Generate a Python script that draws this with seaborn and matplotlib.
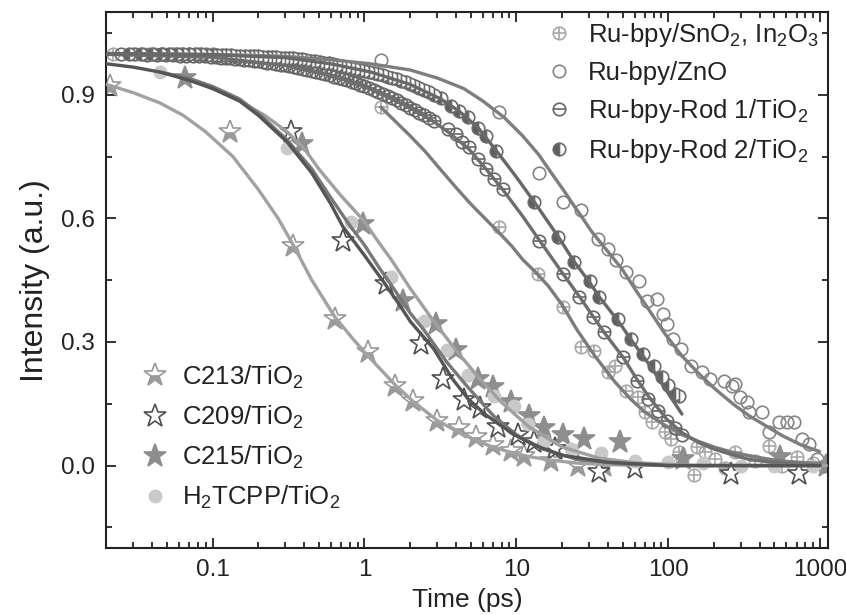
import numpy as np
import matplotlib
matplotlib.use("Agg")
import matplotlib.pyplot as plt
import matplotlib.ticker as mticker
import seaborn as sns
import pandas as pd

# ---- data ----
# Ru-bpy/SnO2, In2O3  (crossed circles)
sno2_x = [0.022, 0.030, 0.038, 0.047, 0.056, 1.28, 7.7, 13.9, 20.4, 26.8, 32.6, 40, 44.5, 53, 63, 70, 78, 95,
          105, 117, 123, 147, 155, 175, 203, 236, 275, 373, 460, 560, 700, 900]
sno2_y = [1.0, 1.0, 1.0, 1.0, 1.0, 0.87, 0.58, 0.465, 0.385, 0.288, 0.278, 0.228, 0.242, 0.18, 0.167, 0.131,
          0.106, 0.082, 0.065, 0.034, 0.017, -0.024, 0.046, 0.034, 0.017, -0.007, 0.034, 0.01, 0.048, 0.0,
          0.02, 0.005]
sno2_fit_x = [1.28, 1.6, 2.0, 2.5, 3.04, 4.0, 5.0, 6.2, 7.7, 9.3, 11, 13.5, 16.2, 20, 25, 33, 44.5, 57, 70, 95,
              123, 160, 200, 260, 340, 450, 600, 800, 1000]
sno2_fit_y = [0.87, 0.835, 0.80, 0.763, 0.726, 0.675, 0.635, 0.60, 0.565, 0.533, 0.50, 0.468, 0.436, 0.39,
              0.33, 0.265, 0.203, 0.16, 0.13, 0.098, 0.075, 0.058, 0.045, 0.033, 0.024, 0.016, 0.01, 0.007,
              0.005]

# Ru-bpy/ZnO (open circles)
zno_x = [0.035, 0.041, 0.047, 0.054, 0.062, 0.07, 0.08, 0.09, 0.1, 1.28, 7.7, 14.1, 20.3, 26.8, 34.6, 40, 45.6,
         53, 64.5, 72, 84, 93, 98, 108, 122, 142, 166, 188, 233, 262, 275, 297, 330, 340, 415, 460, 535, 605,
         675, 760, 845, 955, 1060]
zno_y = [1.0, 1.0, 1.0, 1.0, 1.0, 1.0, 1.0, 1.0, 0.998, 0.985, 0.857, 0.71, 0.64, 0.62, 0.55, 0.525, 0.50,
         0.47, 0.448, 0.40, 0.404, 0.368, 0.344, 0.307, 0.283, 0.242, 0.228, 0.21, 0.206, 0.194, 0.199, 0.167,
         0.155, 0.13, 0.131, 0.082, 0.106, 0.106, 0.106, 0.065, 0.053, 0.017, 0.0]
zno_fit_x = [0.02, 0.1, 0.3, 0.6, 1.1, 2.0, 3.04, 4.5, 6.0, 8.3, 11, 14, 17, 20.3, 23.5, 26.8, 31, 36, 42, 50,
             60, 74, 95, 123, 160, 203, 270, 340, 450, 560, 750, 990]
zno_fit_y = [1.0, 0.998, 0.993, 0.985, 0.975, 0.96, 0.94, 0.915, 0.885, 0.845, 0.80, 0.755, 0.71, 0.67, 0.635,
             0.605, 0.57, 0.54, 0.51, 0.475, 0.43, 0.38, 0.32, 0.266, 0.222, 0.186, 0.148, 0.121, 0.094,
             0.073, 0.05, 0.034]

# Ru-bpy-Rod 1/TiO2 (circle with bar)
rod1_x = [0.025, 0.031, 0.037, 0.043, 0.049, 0.055, 0.061, 0.067, 0.074, 0.081, 0.089, 0.097, 0.105, 0.113,
          0.122, 0.131, 0.141, 0.151, 0.162, 0.174, 0.186, 0.2, 0.214, 0.229, 0.245, 0.262, 0.28, 0.3, 0.32,
          0.343, 0.367, 0.392, 0.42, 0.45, 0.48, 0.515, 0.55, 0.59, 0.63, 0.675, 0.72, 0.77, 0.825, 0.88,
          0.94, 1.0, 1.07, 1.15, 1.23, 1.32, 1.42, 1.52, 1.63, 1.75, 1.88, 2.0, 2.15, 2.3, 2.47, 2.65, 2.85,
          3.54, 4.0, 4.4, 4.87, 5.6, 6.3, 7.1, 8.2, 14.1, 20.3, 26, 32, 38, 50.6, 62, 74, 86, 98, 110, 123]
rod1_y = [0.998, 0.998, 0.997, 0.997, 0.996, 0.996, 0.995, 0.995, 0.994, 0.993, 0.993, 0.992, 0.991, 0.99,
          0.989, 0.988, 0.987, 0.986, 0.985, 0.984, 0.982, 0.981, 0.979, 0.978, 0.976, 0.975, 0.973, 0.971,
          0.969, 0.967, 0.965, 0.963, 0.96, 0.958, 0.955, 0.952, 0.95, 0.947, 0.944, 0.941, 0.938, 0.935,
          0.931, 0.928, 0.924, 0.92, 0.916, 0.912, 0.907, 0.902, 0.897, 0.892, 0.886, 0.88, 0.874, 0.868,
          0.862, 0.856, 0.85, 0.843, 0.835, 0.816, 0.804, 0.785, 0.772, 0.743, 0.719, 0.695, 0.67, 0.545,
          0.465, 0.41, 0.36, 0.324, 0.264, 0.206, 0.162, 0.133, 0.109, 0.09, 0.073]
rod1_fit_x = [0.02, 0.1, 0.3, 0.6, 1.0, 1.5, 2.0, 2.85, 3.54, 4.87, 6.3, 8.2, 11, 14.1, 20.3, 26, 32, 38,
              50.6, 62, 74, 86, 98, 123, 160, 200, 270, 340, 500, 730, 1000]
rod1_fit_y = [0.998, 0.991, 0.971, 0.947, 0.92, 0.89, 0.868, 0.835, 0.81, 0.768, 0.72, 0.668, 0.605, 0.548,
              0.465, 0.41, 0.362, 0.322, 0.262, 0.21, 0.168, 0.138, 0.112, 0.08, 0.055, 0.04, 0.025, 0.015,
              0.007, 0.003, 0.0]

# Ru-bpy-Rod 2/TiO2 (half filled circles)
rod2_x = [0.028, 0.034, 0.04, 0.046, 0.052, 0.058, 0.064, 0.07, 0.077, 0.084, 0.092, 0.1, 0.107, 0.115,
          0.123, 0.132, 0.142, 0.152, 0.163, 0.175, 0.188, 0.2, 0.215, 0.23, 0.245, 0.26, 0.28, 0.3, 0.32,
          0.34, 0.365, 0.39, 0.415, 0.445, 0.475, 0.51, 0.545, 0.58, 0.62, 0.66, 0.71, 0.76, 0.81, 0.87,
          0.93, 1.0, 1.07, 1.15, 1.23, 1.32, 1.42, 1.52, 1.63, 1.75, 1.88, 2.0, 2.15, 2.3, 2.47, 2.65, 2.85,
          3.17, 3.7, 4.2, 4.8, 5.6, 6.3, 7.35, 13.1, 18.9, 24, 30.3, 35, 47, 57, 68.5, 80, 90.5, 100, 110, 117]
rod2_y = [1.0, 1.0, 1.0, 0.999, 0.999, 0.999, 0.998, 0.998, 0.998, 0.998, 0.997, 0.997, 0.997, 0.996,
          0.996, 0.996, 0.995, 0.995, 0.994, 0.994, 0.993, 0.993, 0.992, 0.992, 0.991, 0.991, 0.99, 0.99,
          0.989, 0.988, 0.987, 0.986, 0.985, 0.983, 0.981, 0.98, 0.978, 0.976, 0.974, 0.972, 0.97, 0.968,
          0.966, 0.963, 0.961, 0.958, 0.956, 0.953, 0.95, 0.947, 0.944, 0.941, 0.937, 0.934, 0.93, 0.926,
          0.922, 0.917, 0.912, 0.906, 0.9, 0.893, 0.872, 0.86, 0.845, 0.82, 0.80, 0.763, 0.64, 0.555, 0.494,
          0.448, 0.41, 0.356, 0.307, 0.27, 0.242, 0.215, 0.195, 0.174, 0.17]
rod2_fit_x = [0.02, 0.1, 0.3, 0.6, 1.1, 2.0, 3.17, 4.2, 5.6, 7.35, 10, 13.1, 18.9, 24, 30.3, 35, 47, 57, 68.5,
              80, 100, 123]
rod2_fit_y = [1.0, 0.997, 0.99, 0.975, 0.955, 0.925, 0.89, 0.86, 0.82, 0.765, 0.70, 0.64, 0.555, 0.495,
              0.445, 0.41, 0.35, 0.305, 0.265, 0.23, 0.175, 0.125]

# C213/TiO2 (half filled stars)
c213_x = [0.021, 0.13, 0.34, 0.64, 1.06, 1.6, 2.1, 3.0, 4.2, 5.4, 7.0, 9.2, 11.3, 17, 25.5, 38]
c213_y = [0.92, 0.81, 0.533, 0.356, 0.276, 0.194, 0.157, 0.109, 0.09, 0.07, 0.05, 0.036, 0.024, 0.012, 0.0, 0.0]
c213_fit_x = [0.02, 0.03, 0.045, 0.064, 0.09, 0.136, 0.2, 0.27, 0.34, 0.45, 0.64, 0.85, 1.06, 1.6, 2.1, 3.0,
              4.2, 5.5, 7, 9, 12, 17, 25, 40, 100, 1000]
c213_fit_y = [0.925, 0.905, 0.88, 0.85, 0.81, 0.75, 0.67, 0.60, 0.535, 0.45, 0.36, 0.305, 0.265, 0.195, 0.155,
              0.11, 0.08, 0.06, 0.045, 0.033, 0.022, 0.013, 0.006, 0.002, 0.0, 0.0]

# C209/TiO2 (open stars)
c209_x = [0.33, 0.72, 1.38, 2.35, 3.3, 4.5, 5.8, 7.6, 10.3, 13, 18, 35, 60, 260, 730]
c209_y = [0.81, 0.545, 0.44, 0.295, 0.21, 0.16, 0.14, 0.094, 0.073, 0.058, 0.04, -0.015, -0.007, -0.02, -0.02]
c209_fit_x = [0.02, 0.03, 0.045, 0.07, 0.1, 0.15, 0.2, 0.31, 0.45, 0.6, 0.72, 1.0, 1.34, 1.7, 2.0, 2.86, 3.8,
              4.8, 6.2, 7.9, 10, 13, 20, 40, 100, 1000]
c209_fit_y = [0.975, 0.967, 0.955, 0.935, 0.915, 0.885, 0.85, 0.785, 0.71, 0.635, 0.58, 0.51, 0.445, 0.39,
              0.35, 0.283, 0.21, 0.162, 0.125, 0.097, 0.072, 0.05, 0.025, 0.008, 0.0, 0.0]

# C215/TiO2 (filled stars)
c215_x = [0.066, 0.39, 0.985, 1.78, 2.95, 4.0, 5.6, 7.0, 9.2, 12.1, 15.3, 20.3, 28, 48, 125, 540, 1090]
c215_y = [0.94, 0.78, 0.586, 0.40, 0.344, 0.28, 0.21, 0.19, 0.155, 0.12, 0.09, 0.073, 0.065, 0.058, 0.017,
          0.02, 0.0]
c215_fit_x = [0.066, 0.1, 0.15, 0.22, 0.31, 0.4, 0.5, 0.7, 0.985, 1.25, 1.5, 2.0, 2.86, 4.0, 5.6, 7.9, 12, 20,
              35, 60, 150, 1100]
c215_fit_y = [0.94, 0.915, 0.885, 0.85, 0.81, 0.77, 0.72, 0.655, 0.595, 0.54, 0.5, 0.43, 0.35, 0.28, 0.215,
              0.155, 0.095, 0.045, 0.018, 0.007, 0.0, 0.0]

# H2TCPP/TiO2 (light filled circles)
tcpp_x = [0.045, 0.31, 0.81, 1.49, 2.45, 3.5, 4.8, 7.1, 9.7, 12, 15.3, 23, 36, 60, 100, 170, 300, 500, 900]
tcpp_y = [0.954, 0.77, 0.59, 0.457, 0.35, 0.28, 0.22, 0.17, 0.145, 0.10, 0.06, 0.04, 0.03, 0.012, 0.008,
          0.005, 0.0, 0.0, 0.0]
tcpp_fit_x = [0.045, 0.07, 0.1, 0.15, 0.2, 0.31, 0.45, 0.6, 0.81, 1.0, 1.25, 1.49, 2.0, 2.45, 3.5, 4.8, 7.1,
              10, 15, 25, 50, 100, 1000]
tcpp_fit_y = [0.955, 0.94, 0.92, 0.89, 0.855, 0.79, 0.72, 0.65, 0.58, 0.535, 0.48, 0.44, 0.37, 0.33, 0.25,
              0.19, 0.12, 0.075, 0.04, 0.015, 0.004, 0.0, 0.0]

sns.set_theme(style="ticks")
plt.rcParams['font.family'] = ['Liberation Sans', 'DejaVu Sans']
plt.rcParams['mathtext.fontset'] = 'custom'
plt.rcParams['mathtext.rm'] = 'Liberation Sans'
plt.rcParams['mathtext.default'] = 'regular'

fig = plt.figure(figsize=(8.46, 6.15), dpi=100)
ax = fig.add_axes([0.125, 0.109, 0.854, 0.871])

ms_c = 9
ms_s = 17
mew = 1.2

# Ru-bpy markers
h_sno2_o, = ax.plot(sno2_x, sno2_y, 'o', ms=ms_c, mfc='none', mec='#a8a8a8', mew=mew, zorder=2)
h_sno2_p, = ax.plot(sno2_x, sno2_y, '+', ms=ms_c, mec='#a8a8a8', mew=mew, zorder=2)
h_zno, = ax.plot(zno_x, zno_y, 'o', ms=ms_c, mfc='none', mec='#858585', mew=mew, zorder=2)
h_rod1_o, = ax.plot(rod1_x, rod1_y, 'o', ms=ms_c, mfc='none', mec='#666666', mew=mew, zorder=2)
h_rod1_m, = ax.plot(rod1_x, rod1_y, '_', ms=ms_c, mec='#666666', mew=mew, zorder=2)
h_rod2, = ax.plot(rod2_x, rod2_y, 'o', ms=ms_c, fillstyle='left', mfc='#5e5e5e', mfcalt='white',
                  mec='#6a6a6a', mew=mew, zorder=2)

# dye markers
h_c213, = ax.plot(c213_x, c213_y, '*', ms=ms_s, fillstyle='bottom', mfc='#9a9a9a', mfcalt='white',
                  mec='#9a9a9a', mew=mew, zorder=2)
h_c209, = ax.plot(c209_x, c209_y, '*', ms=ms_s, mfc='white', mec='#4f4f4f', mew=mew, zorder=2)
h_c215, = ax.plot(c215_x, c215_y, '*', ms=ms_s, mfc='#8e8e8e', mec='#8e8e8e', mew=mew, zorder=2)
h_tcpp, = ax.plot(tcpp_x, tcpp_y, 'o', ms=ms_c, mfc='#c9c9c9', mec='#c9c9c9', zorder=2)

# fit curves
fits = [
    (sno2_fit_x, sno2_fit_y, '#7c7c7c'),
    (zno_fit_x, zno_fit_y, '#7e7e7e'),
    (rod1_fit_x, rod1_fit_y, '#6e6e6e'),
    (rod2_fit_x, rod2_fit_y, '#686868'),
    (c213_fit_x, c213_fit_y, '#a2a2a2'),
    (c215_fit_x, c215_fit_y, '#a0a0a0'),
    (tcpp_fit_x, tcpp_fit_y, '#787878'),
    (c209_fit_x, c209_fit_y, '#555555'),
]
for fx, fy, col in fits:
    df = pd.DataFrame({'t': fx, 'I': fy})
    sns.lineplot(data=df, x='t', y='I', ax=ax, color=col, lw=2.4, sort=False, estimator=None, zorder=3)

ax.set_xscale('log')
ax.set_xlim(0.0198, 1130)
ax.set_ylim(-0.2, 1.1)

ax.xaxis.set_major_locator(mticker.FixedLocator([0.1, 1, 10, 100, 1000]))
ax.xaxis.set_major_formatter(mticker.FixedFormatter(['0.1', '1', '10', '100', '1000']))
ax.xaxis.set_minor_locator(mticker.LogLocator(base=10, subs=np.arange(2, 10)))
ax.xaxis.set_minor_formatter(mticker.NullFormatter())
ax.yaxis.set_major_locator(mticker.FixedLocator([0.0, 0.3, 0.6, 0.9]))
ax.yaxis.set_major_formatter(mticker.FixedFormatter(['0.0', '0.3', '0.6', '0.9']))
ax.yaxis.set_minor_locator(mticker.FixedLocator([-0.15, 0.15, 0.45, 0.75, 1.05]))

ax.tick_params(which='both', direction='in', top=True, right=True, width=1.3, colors='#222222',
               labelsize=17.5, labelcolor='#222222')
ax.tick_params(which='major', length=7, pad=8)
ax.tick_params(which='minor', length=4)
for s in ax.spines.values():
    s.set_linewidth(1.5)
    s.set_color('#222222')

ax.set_xlabel('Time (ps)', fontsize=19, color='#222222', labelpad=5)
ax.set_ylabel('Intensity (a.u.)', fontsize=23, color='#222222', labelpad=8)

leg1 = ax.legend([(h_sno2_o, h_sno2_p), h_zno, (h_rod1_o, h_rod1_m), h_rod2],
                 ['Ru-bpy/SnO$_2$, In$_2$O$_3$', 'Ru-bpy/ZnO', 'Ru-bpy-Rod 1/TiO$_2$', 'Ru-bpy-Rod 2/TiO$_2$'],
                 loc='upper left', bbox_to_anchor=(0.585, 1.018), frameon=False, fontsize=18.5,
                 handlelength=1.0, handletextpad=0.6, labelspacing=0.47, borderpad=0.2)
for t in leg1.get_texts():
    t.set_color('#222222')
ax.add_artist(leg1)

leg2 = ax.legend([h_c213, h_c209, h_c215, h_tcpp],
                 ['C213/TiO$_2$', 'C209/TiO$_2$', 'C215/TiO$_2$', 'H$_2$TCPP/TiO$_2$'],
                 loc='upper left', bbox_to_anchor=(0.025, 0.378), frameon=False, fontsize=18.5,
                 handlelength=1.0, handletextpad=0.55, labelspacing=0.5, borderpad=0.2)
for t in leg2.get_texts():
    t.set_color('#222222')

fig.savefig('out.png', dpi=100)
